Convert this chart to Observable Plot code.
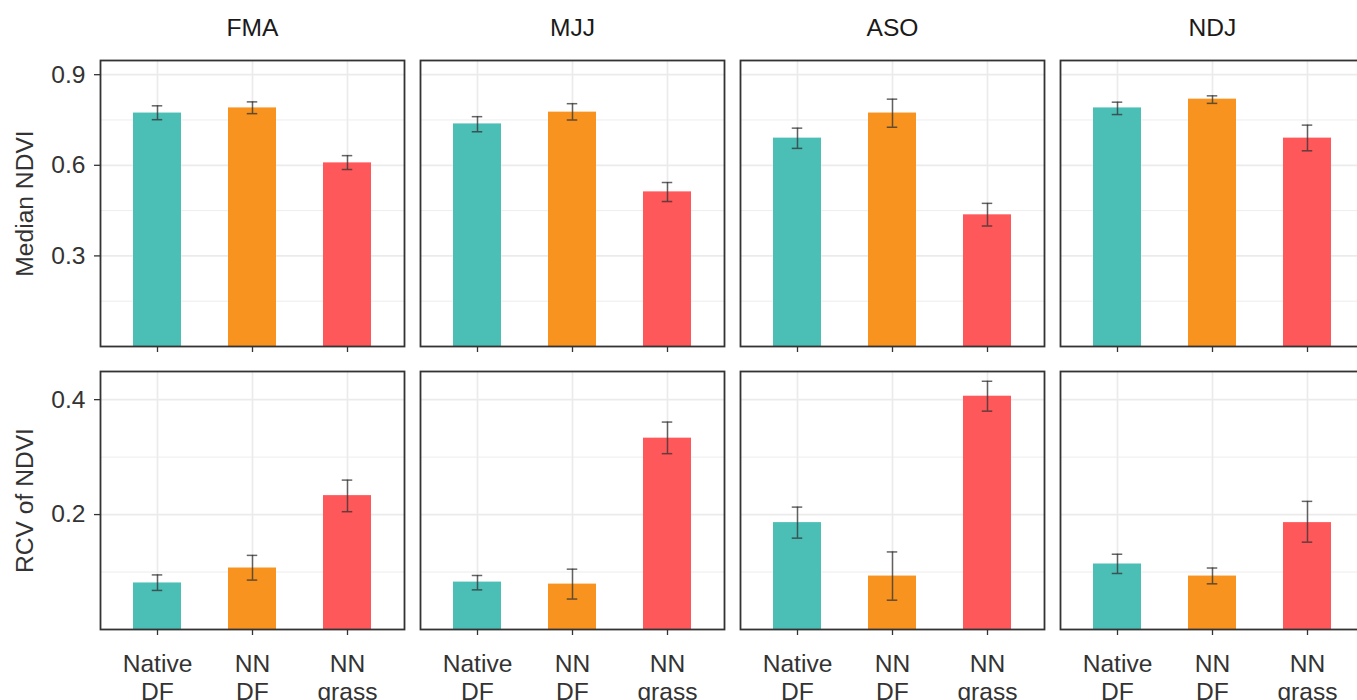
<!DOCTYPE html>
<html><head><meta charset="utf-8">
<script src="https://cdn.jsdelivr.net/npm/d3@7"></script>
<script src="https://cdn.jsdelivr.net/npm/@observablehq/plot@0.6"></script>
<style>
html,body{margin:0;padding:0;background:#fff;overflow:hidden;}
#wrap{position:relative;width:1357px;height:700px;overflow:hidden;}
#top{position:absolute;left:0;top:0;}
#bottom{position:absolute;left:0;top:358px;}
svg{max-width:none !important;}
</style></head><body><div id="wrap"><div id="top"></div><div id="bottom"></div></div>
<script>
const seasons = ["FMA", "MJJ", "ASO", "NDJ"];
const covers = ["Native DF", "NN DF", "NN grass"];
const coverColors = ["#4BBEB6", "#F7931E", "#FF585A"];

// Median NDVI (rows: seasons, columns: covers)
const medianMean = [[0.773, 0.790, 0.608], [0.737, 0.776, 0.512], [0.690, 0.773, 0.436], [0.790, 0.819, 0.690]];
const medianLow  = [[0.751, 0.771, 0.586], [0.711, 0.750, 0.480], [0.656, 0.726, 0.399], [0.768, 0.805, 0.648]];
const medianHigh = [[0.797, 0.810, 0.632], [0.761, 0.804, 0.543], [0.723, 0.819, 0.474], [0.809, 0.830, 0.733]];

// RCV of NDVI
const rcvMean = [[0.081, 0.107, 0.233], [0.0825, 0.079, 0.333], [0.186, 0.093, 0.406], [0.114, 0.093, 0.186]];
const rcvLow  = [[0.068, 0.086, 0.205], [0.069, 0.053, 0.306], [0.159, 0.051, 0.380], [0.0975, 0.0795, 0.152]];
const rcvHigh = [[0.095, 0.129, 0.260], [0.094, 0.105, 0.361], [0.213, 0.135, 0.432], [0.131, 0.107, 0.223]];

const medianTicks = [0.3, 0.6, 0.9];
const medianMinor = [0.15, 0.45, 0.75];
const rcvTicks = [0.2, 0.4];
const rcvMinor = [0.1, 0.3];

function rows(mean, low, high) {
  const out = [];
  seasons.forEach((s, i) => covers.forEach((c, j) =>
    out.push({season: s, cover: c, value: mean[i][j], low: low[i][j], high: high[i][j]})));
  return out;
}

const FS = 24.6;

function panel({data, domain, ticks, minor, height, marginTop, marginBottom, label, showLabels, showStrip}) {
  const err = {stroke: "#333", strokeOpacity: 0.75, strokeWidth: 1.5};
  return Plot.plot({
    width: 1370, height, marginLeft: 100, marginRight: 6, marginTop, marginBottom,
    style: {fontFamily: "'Liberation Sans', Arial, sans-serif", fontSize: FS + "px", background: "white", overflow: "visible", maxWidth: "none"},
    fx: {domain: seasons, paddingInner: 0.05, paddingOuter: 0, axis: null, label: null},
    x: {domain: covers, paddingInner: 0.5, paddingOuter: 0.35, align: 0.5},
    y: {domain},
    color: {domain: covers, range: coverColors},
    marks: [
      Plot.gridY(minor, {stroke: "#EBEBEB", strokeOpacity: 1, strokeWidth: 0.9}),
      Plot.gridY(ticks, {stroke: "#EBEBEB", strokeOpacity: 1, strokeWidth: 1.7}),
      Plot.gridX(covers, {stroke: "#EBEBEB", strokeOpacity: 1, strokeWidth: 1.7}),
      Plot.barY(data, {fx: "season", x: "cover", y: "value", fill: "cover"}),
      Plot.ruleX(data, {fx: "season", x: "cover", y1: "low", y2: "high", ...err}),
      Plot.tickY(data, {fx: "season", x: "cover", y: "low", insetLeft: 18.75, insetRight: 18.75, ...err}),
      Plot.tickY(data, {fx: "season", x: "cover", y: "high", insetLeft: 18.75, insetRight: 18.75, ...err}),
      Plot.frame({stroke: "#333", strokeWidth: 1.8}),
      Plot.axisY(ticks, {tickSize: 6, tickPadding: 9, fontSize: FS, color: "#333", strokeWidth: 1.3, tickFormat: d => String(d),
        label, labelAnchor: "center", labelOffset: 85, labelArrow: "none"}),
      Plot.axisX({tickSize: 6, tickPadding: 17, fontSize: FS, color: "#333", strokeWidth: 1.3, label: null, lineHeight: 1.14,
        tickFormat: showLabels ? (d => d.replace(" ", "\n")) : (() => "")}),
      showStrip ? Plot.text(seasons, {fx: d => d, text: d => d, frameAnchor: "top", dy: -42, fontSize: FS, fill: "#1a1a1a"}) : null
    ]
  });
}

document.getElementById("top").append(panel({
  data: rows(medianMean, medianLow, medianHigh), domain: [0, 0.947],
  ticks: medianTicks, minor: medianMinor, height: 358, marginTop: 60, marginBottom: 12,
  label: "Median NDVI", showLabels: false, showStrip: true
}));
document.getElementById("bottom").append(panel({
  data: rows(rcvMean, rcvLow, rcvHigh), domain: [0, 0.449],
  ticks: rcvTicks, minor: rcvMinor, height: 360, marginTop: 13, marginBottom: 89,
  label: "RCV of NDVI", showLabels: true, showStrip: false
}));
</script>
</body></html>
